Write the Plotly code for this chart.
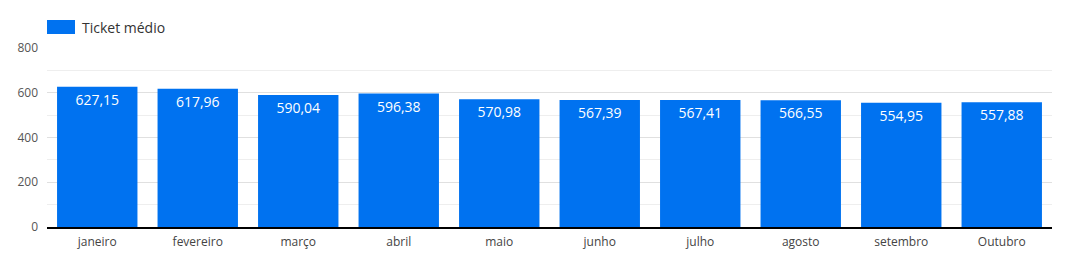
import plotly.graph_objects as go

meses = ["janeiro", "fevereiro", "março", "abril", "maio", "junho", "julho", "agosto", "setembro", "Outubro"]
ticket_medio = [627.15, 617.96, 590.04, 596.38, 570.98, 567.39, 567.41, 566.55, 554.95, 557.88]
serie_nome = "Ticket médio"

cor = "#0072F0"
fonte = "Open Sans"

rotulos = [f"{v:.2f}".replace(".", ",") for v in ticket_medio]

fig = go.Figure(go.Bar(
    x=meses, y=ticket_medio, name=serie_nome,
    marker=dict(color=cor, line=dict(width=0)),
    text=rotulos, textposition="inside", insidetextanchor="end",
    textangle=0,
    textfont=dict(color="white", size=14, family=fonte),
    showlegend=False,
))

L, R, T, B = 47, 14, 48, 42
W, H = 1066, 269
pw, ph = W - L - R, H - T - B

fig.update_layout(
    width=W, height=H,
    margin=dict(l=L, r=R, t=T, b=B),
    paper_bgcolor="white", plot_bgcolor="white",
    bargap=0.2,
    font=dict(family=fonte, color="#444", size=12),
    uniformtext=dict(minsize=14, mode="show"),
    yaxis=dict(
        range=[0, 800], tickvals=[0, 200, 400, 600, 800],
        showgrid=True, gridcolor="#e0e0e0", gridwidth=1,
        minor=dict(dtick=100, showgrid=True, gridcolor="#eeeeee", gridwidth=1),
        zeroline=False, tickfont=dict(size=12, color="#555"),
        ticks="", ticklabelstandoff=8,
    ),
    xaxis=dict(
        showline=True, linecolor="black", linewidth=1.5,
        tickfont=dict(size=12, color="#444"), ticks="",
        ticklabelstandoff=3,
    ),
    shapes=[dict(
        type="rect", xref="paper", yref="paper",
        x0=0, x1=28 / pw, y0=(H - B - 34) / ph, y1=(H - B - 20) / ph,
        fillcolor=cor, line=dict(width=0),
    )],
    annotations=[dict(
        text=serie_nome, xref="paper", yref="paper",
        x=33 / pw, y=(H - B - 27) / ph, xanchor="left", yanchor="middle",
        showarrow=False, font=dict(size=14, color="#333", family=fonte),
    )],
)

fig.write_html("out.html")
